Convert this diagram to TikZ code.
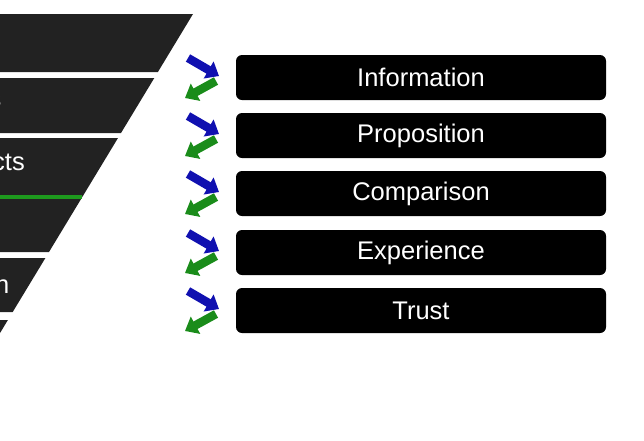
\documentclass[tikz,border=0pt]{standalone}
\usepackage{fontspec}
\setmainfont{Liberation Sans}
\usetikzlibrary{arrows.meta}
\definecolor{funnelgray}{HTML}{222222}
\definecolor{sepgreen}{HTML}{1E9A1E}
\definecolor{arrblue}{HTML}{1010B0}
\definecolor{arrgreen}{HTML}{1A8C1A}
\tikzset{
  band/.style={fill=funnelgray, draw=none},
  stagebox/.style={fill=black, rounded corners=6pt, minimum width=370pt, minimum height=45pt, inner sep=0pt,
    text=white, font=\fontsize{25.5pt}{28pt}\selectfont},
  bandtext/.style={text=white, inner sep=0pt, font=\fontsize{25.5pt}{28pt}\selectfont},
  inarrow/.style={draw=arrblue, line width=8.5pt, -{Triangle[width=19pt,length=12pt]}},
  outarrow/.style={draw=arrgreen, line width=8.5pt, -{Triangle[width=19pt,length=12pt]}},
}
\begin{document}
\begin{tikzpicture}[x=1pt,y=-1pt]
\useasboundingbox (0,0) rectangle (644,440);
\clip (0,0) rectangle (644,440);
% funnel edge x(y) = 193 - 0.605 (y-14)
\fill[band] (-20,14) -- (193,14) -- (157.9,72) -- (-20,72) -- cycle;
\fill[band] (-20,78) -- (154.3,78) -- (121.0,133) -- (-20,133) -- cycle;
\fill[band] (-20,138) -- (118.0,138) -- (49.0,252) -- (-20,252) -- cycle;
\fill[band] (-20,258) -- (45.4,258) -- (12.7,312) -- (-20,312) -- cycle;
\fill[band] (-20,320) -- (7.9,320) -- (-4.2,340) -- (-20,340) -- cycle;
\draw[sepgreen, line width=4pt] (-5,197) -- (82.3,197);
\node[bandtext, anchor=base east] (t1) at (1.5,107) {s};
\node[bandtext, anchor=base east] (t2) at (25,170) {cts};
\node[bandtext, anchor=base east] (t3) at (9.5,293) {n};
% boxes
\foreach \i/\t/\lab in {1/55/Information, 2/113/Proposition, 3/171/Comparison, 4/230/Experience, 5/288/Trust}{
  \node[stagebox] (b\i) at (421,\t+22.5) {\lab};
  \coordinate (bt\i) at (188,\t+3);
  \coordinate (bh\i) at (219,\t+21);
  \coordinate (gt\i) at (216,\t+26);
  \coordinate (gh\i) at (185,\t+43);
  \draw[inarrow] (bt\i) -- (bh\i);
  \draw[outarrow] (gt\i) -- (gh\i);
}
\end{tikzpicture}
\end{document}
